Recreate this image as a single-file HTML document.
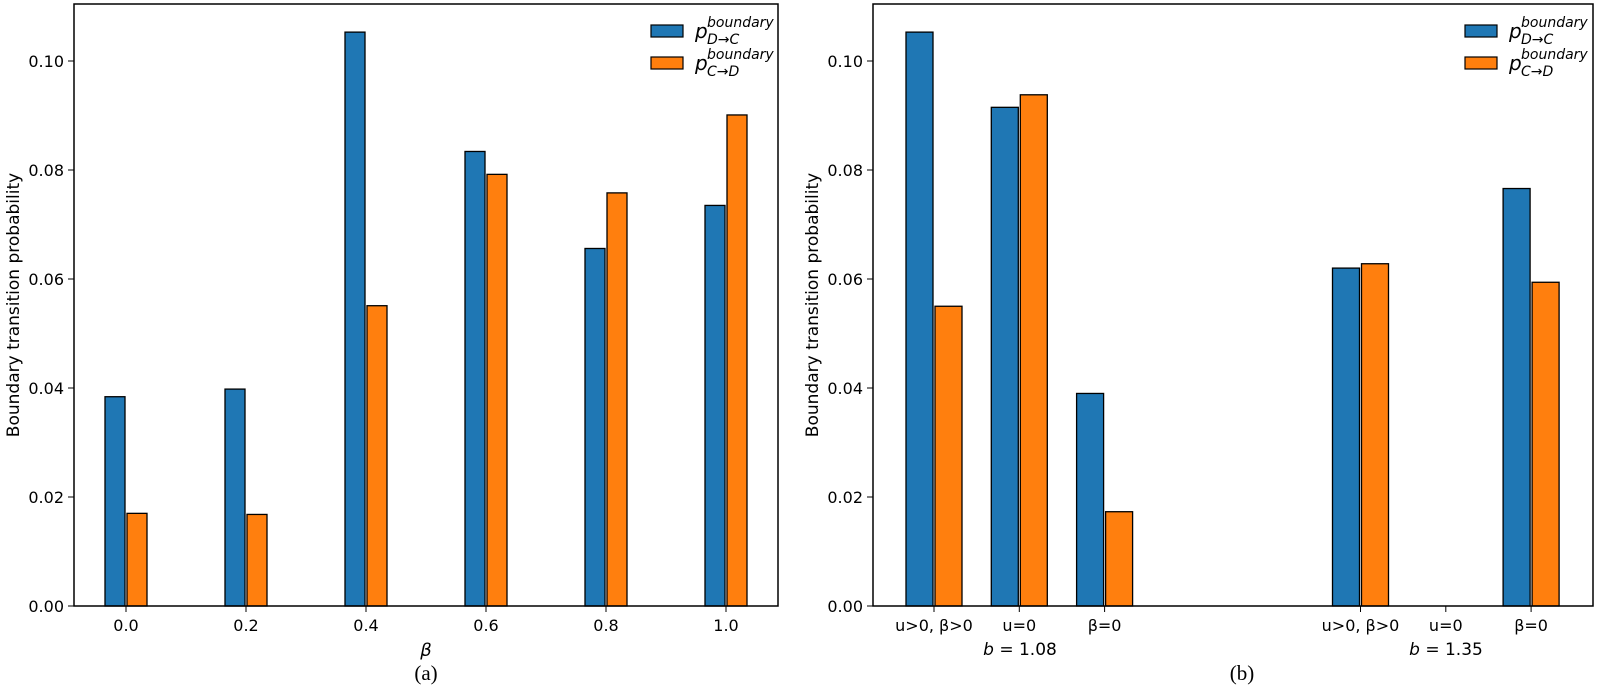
<!DOCTYPE html>
<html><head><meta charset="utf-8"><style>
body{margin:0;background:#fff;}
svg text{font-family:"DejaVu Sans","Liberation Sans",sans-serif;fill:#000;}
</style></head><body>
<svg width="1600" height="688" viewBox="0 0 1600 688" xmlns="http://www.w3.org/2000/svg">
<g id="pa"></g>
<g id="pb"></g>
</svg>
<script>
const aCats=["0.0","0.2","0.4","0.6","0.8","1.0"];
const aX=[0,0.2,0.4,0.6,0.8,1.0];
const aDC=[0.0384,0.0398,0.1053,0.0834,0.0656,0.0735];
const aCD=[0.0170,0.0168,0.0551,0.0792,0.0758,0.0901];
const bCats=["u>0, β>0","u=0","β=0","u>0, β>0","u=0","β=0"];
const bX=[0,1,2,5,6,7];
const bDC=[0.1053,0.0915,0.0390,0.0620,0,0.0766];
const bCD=[0.0550,0.0938,0.0173,0.0628,0,0.0594];
const yTicks=[0,0.02,0.04,0.06,0.08,0.10];
const yTickLabels=["0.00","0.02","0.04","0.06","0.08","0.10"];
const NS="http://www.w3.org/2000/svg";
function mk(p,t,a,txt){const e=document.createElementNS(NS,t);for(const k in a)e.setAttribute(k,a[k]);if(txt!==undefined)e.textContent=txt;p.appendChild(e);return e;}
const y=v=>606-v*5450;
function panel(g,L,R,xs,cats,dc,cd,xf,bw,off,lx){
  for(let i=0;i<yTicks.length;i++){
    const t=mk(g,'line',{x1:L-6,x2:L,y1:y(yTicks[i]),y2:y(yTicks[i]),stroke:'#000','stroke-width':1});
    
    
    const l=mk(g,'text',{x:L-10,y:y(yTicks[i])+6,'text-anchor':'end','font-size':16},yTickLabels[i]);
    
    
  }
  for(let i=0;i<xs.length;i++){
    const cx=xf(xs[i]);
    if(dc[i]>0){const r=mk(g,'rect',{x:cx-off-bw/2,y:y(dc[i]),width:bw,height:606-y(dc[i]),fill:'#1f77b4',stroke:'#000','stroke-width':1.3});
    
    }
    if(cd[i]>0){const r=mk(g,'rect',{x:cx+off-bw/2,y:y(cd[i]),width:bw,height:606-y(cd[i]),fill:'#ff7f0e',stroke:'#000','stroke-width':1.3});
    
    }
    const t=mk(g,'line',{x1:cx,x2:cx,y1:606,y2:612,stroke:'#000','stroke-width':1});
    
    
    const l=mk(g,'text',{x:cx,y:631,'text-anchor':'middle','font-size':16},cats[i]);
    
    
  }
  const f=mk(g,'rect',{x:L,y:4,width:R-L,height:602,fill:'none',stroke:'#000','stroke-width':1.5});
  
  
  const yl=mk(g,'text',{x:0,y:0,transform:`translate(${L-55},305) rotate(-90)`,'text-anchor':'middle','font-size':17},'Boundary transition probability');
  
  
  [['#1f77b4','D→C',25],['#ff7f0e','C→D',57]].forEach(s=>{
    const p=mk(g,'rect',{x:lx,y:s[2],width:32,height:12,fill:s[0],stroke:'#000','stroke-width':1.2});
    
    
    const t=mk(g,'text',{x:lx+44,y:s[2]+13,'font-size':20,'font-style':'italic'},'p');
    
    
    const sp=mk(g,'text',{x:lx+56,y:s[2]+2,'font-size':14,'font-style':'italic'},'boundary');
    
    
    const sb=mk(g,'text',{x:lx+56,y:s[2]+19,'font-size':14,'font-style':'italic'},s[1]);
    
    
  });
}
const pa=document.getElementById('pa'),pb=document.getElementById('pb');
panel(pa,74,778,aX,aCats,aDC,aCD,v=>126+v*600,20,11,651);
panel(pb,873,1593,bX,bCats,bDC,bCD,v=>934+v*85.3,27,14.5,1465);
let e;
e=mk(pa,'text',{x:426,y:656,'text-anchor':'middle','font-size':18,'font-style':'italic'},'β');


e=mk(pa,'text',{x:426,y:680,'text-anchor':'middle','font-size':21,style:'font-family:"Liberation Serif",serif'},'(a)');


e=mk(pb,'text',{x:1020,y:655,'text-anchor':'middle','font-size':17},'');
e.innerHTML='<tspan font-style="italic">b</tspan> = 1.08';


e=mk(pb,'text',{x:1446,y:655,'text-anchor':'middle','font-size':17},'');
e.innerHTML='<tspan font-style="italic">b</tspan> = 1.35';


e=mk(pb,'text',{x:1242,y:680,'text-anchor':'middle','font-size':21,style:'font-family:"Liberation Serif",serif'},'(b)');


</script>
</body></html>
